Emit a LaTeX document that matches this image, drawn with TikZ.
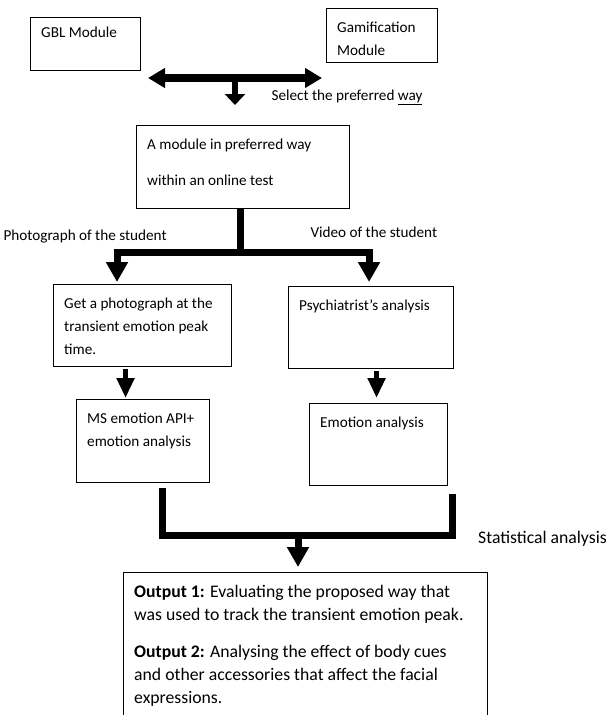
\documentclass[tikz,border=0pt]{standalone}
\usepackage{fontspec}
\setmainfont{Carlito}
\usepackage{xcolor}
\usetikzlibrary{arrows.meta}

\tikzset{
every node/.style={font=\fontsize{15.2pt}{23pt}\selectfont},
bigtext/.style={font=\fontsize{17.7pt}{23pt}\selectfont},
modbox/.style={draw, line width=1.1pt, anchor=north west, inner sep=0pt},
boxtext/.style={anchor=north west, align=left, inner xsep=11pt, inner ysep=13.5pt},
bigarrow/.style={line width=7pt, -{Triangle[length=20pt,width=21pt]}},
smallarrow/.style={line width=5.5pt, -{Triangle[length=20pt,width=17pt]}},
bar/.style={line width=7pt}
}

\begin{document}
\begin{tikzpicture}[x=1pt,y=-1pt]

\useasboundingbox (0,0) rectangle (609,715);

% the two modules
\node[modbox, minimum width=110pt, minimum height=53pt,
  label={[boxtext, inner ysep=9.5pt]north west:GBL Module}] (gbl) at (30,17) {};
\node[modbox, minimum width=111pt, minimum height=54pt,
  label={[boxtext]north west:{Gamification\\Module}}] (gami) at (326,8) {};

\coordinate (selL) at (148,78);
\coordinate (selR) at (322,78);
\coordinate (selM) at (235,78);
\draw[line width=8pt, {Triangle[length=17pt,width=19pt]}-{Triangle[length=17pt,width=19pt]}] (selL) -- (selR);

\node[anchor=base west] (select) at (268,100) {Select the preferred \underline{way}};

\node[modbox, minimum width=213pt, minimum height=83pt,
  label={[boxtext]north west:{A module in preferred way\\[13pt]within an online test}}] (module) at (136,125) {};

\draw[line width=6.5pt, -{Triangle[length=11pt,width=20pt]}, shorten >=20pt] (selM) -- (selM |- module.north);

% photograph / video branches
\node[anchor=base west] (photolbl) at (0,240) {Photograph of the student};
\node[anchor=base west] (videolbl) at (307,237) {Video of the student};

\node[modbox, minimum width=178pt, minimum height=82pt,
  label={[boxtext]north west:{Get a photograph at the\\transient emotion peak\\time.}}] (photo) at (53,284) {};
\node[modbox, minimum width=165pt, minimum height=82pt,
  label={[boxtext]north west:{Psychiatrist’s analysis}}] (psych) at (288,286) {};

\coordinate (split) at (240,252);
\draw[bar] (module.south -| split) -- (split);
\draw[bigarrow, shorten >=2pt] (split) -| ([xshift=64pt]photo.north west);
\draw[bigarrow, shorten >=4pt] (split) -| ([xshift=-2pt]psych.north);

\node[modbox, minimum width=133pt, minimum height=83pt,
  label={[boxtext]north west:{MS emotion API+\\emotion analysis}}] (msapi) at (76,399) {};
\node[modbox, minimum width=138pt, minimum height=82pt,
  label={[boxtext]north west:{Emotion analysis}}] (emo) at (309,403) {};

\draw[smallarrow, shorten <=2pt, shorten >=1pt] ([xshift=-17pt]photo.south) -- ([xshift=-17pt]photo.south |- msapi.north);
\draw[smallarrow, shorten <=2pt, shorten >=5pt] ([xshift=-2pt]emo.north |- psych.south) -- ([xshift=-2pt]emo.north);

% statistical analysis
\coordinate (joinL) at (162,535);
\coordinate (joinR) at (452,535);
\coordinate (joinM) at (298,535);
\draw[bar] ([yshift=-5pt]msapi.south -| joinL) -- (joinL) -- (joinR) -- ([yshift=-8pt]emo.south -| joinR);

\node[bigtext, anchor=base west, inner xsep=0pt] (stats) at (478,543) {Statistical analysis};

\node[modbox, minimum width=364pt, minimum height=170pt,
  label={[boxtext, bigtext, inner ysep=13pt]north west:{\textbf{Output 1:} Evaluating the proposed way that\\was used to track the transient emotion peak.\\[14pt]\textbf{Output 2:} Analysing the effect of body cues\\and other accessories that affect the facial\\expressions.}}] (output) at (123,572) {};

\draw[bigarrow, shorten >=5pt] (joinM) -- (joinM |- output.north);

\end{tikzpicture}
\end{document}
